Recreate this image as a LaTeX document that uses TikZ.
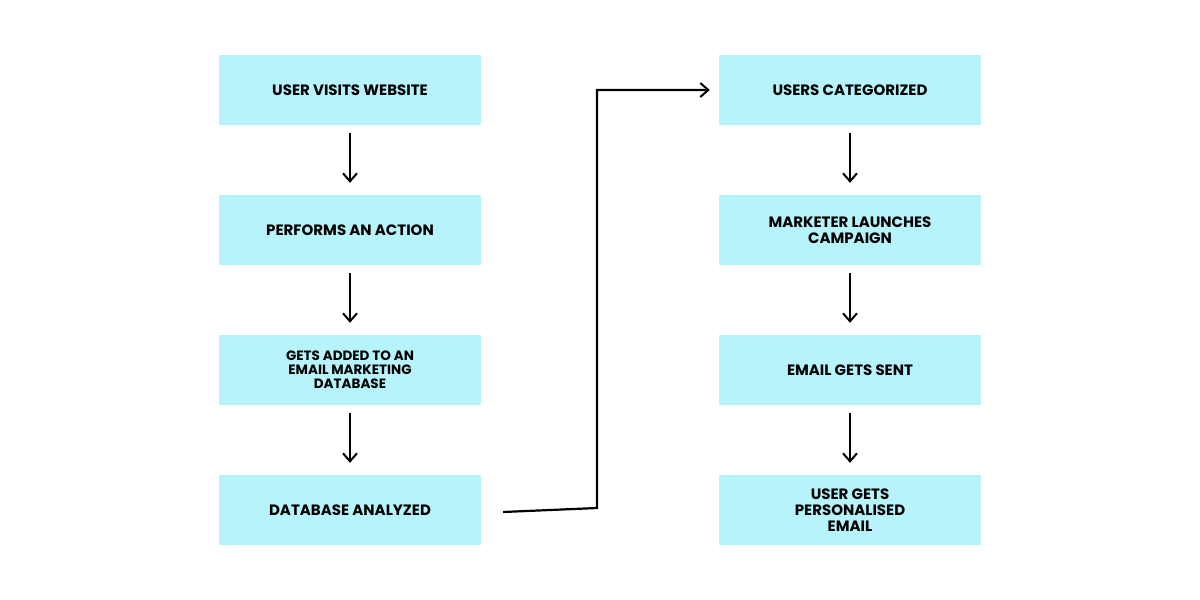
\documentclass[tikz,border=0pt]{standalone}
\usepackage{fontspec}
\setmainfont{Poppins}
\usetikzlibrary{arrows.meta}
\definecolor{boxc}{HTML}{B6F3FA}
\begin{document}
\begin{tikzpicture}[x=1pt,y=-1pt,
 box/.style={fill=boxc,minimum width=262pt,minimum height=70pt,inner sep=0pt,align=center,font=\bfseries\fontsize{15}{16}\selectfont},
 sm/.style={font=\bfseries\fontsize{13.5}{14}\selectfont},
 arr/.style={line width=2.2pt,-{Straight Barb[length=8pt,width=14pt,line width=2pt]}}]
\useasboundingbox (0,0) rectangle (1200,600);
\node[box] (a1) at (350,90) {USER VISITS WEBSITE};
\node[box] (a2) at (350,230) {PERFORMS AN ACTION};
\node[box,sm] (a3) at (350,370) {GETS ADDED TO AN\\EMAIL MARKETING\\DATABASE};
\node[box] (a4) at (350,510) {DATABASE ANALYZED};
\node[box] (b1) at (850,90) {USERS CATEGORIZED};
\node[box] (b2) at (850,230) {MARKETER LAUNCHES\\CAMPAIGN};
\node[box] (b3) at (850,370) {EMAIL GETS SENT};
\node[box] (b4) at (850,510) {USER GETS\\PERSONALISED\\EMAIL};
\foreach \u/\v in {a1/a2,a2/a3,a3/a4,b1/b2,b2/b3,b3/b4}{
 \draw[arr] ([yshift=-8pt]\u.south) -- ([yshift=12pt]\v.north);}
\draw[arr] ([xshift=22pt,yshift=-2pt]a4.east) -- (597,508) -- (597,90) -- ([xshift=-9pt]b1.west);
\end{tikzpicture}
\end{document}
